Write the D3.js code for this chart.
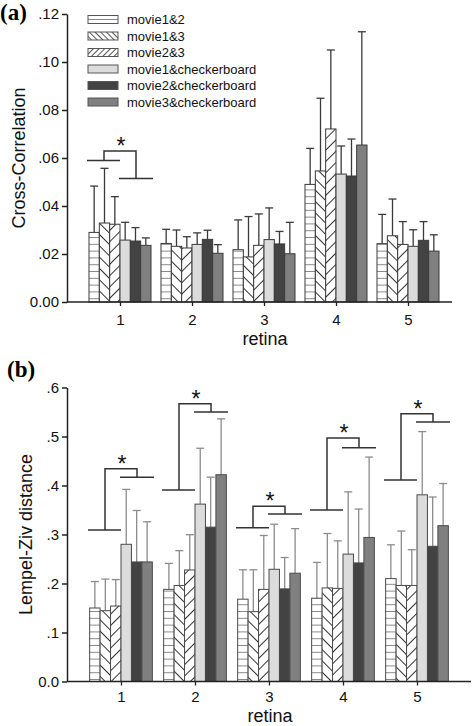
<!DOCTYPE html>
<html><head><meta charset="utf-8">
<script src="https://cdn.jsdelivr.net/npm/d3@7"></script>
<style>
html,body{margin:0;padding:0;background:#fff;}
svg{display:block;font-family:"Liberation Sans",Arial,sans-serif;}
</style></head>
<body><svg id="c" width="472" height="726"></svg>
<script>
// ---------- data ----------
const retinas = [1, 2, 3, 4, 5];
const seriesNames = ["movie1&2", "movie1&3", "movie2&3", "movie1&checkerboard", "movie2&checkerboard", "movie3&checkerboard"];

// Panel (a): Cross-Correlation, mean per series (index = retina 1..5)
const aM12  = [0.0290, 0.0244, 0.0218, 0.0490, 0.0243];
const aM13  = [0.0329, 0.0232, 0.0188, 0.0546, 0.0276];
const aM23  = [0.0324, 0.0225, 0.0236, 0.0721, 0.0240];
const aM1CB = [0.0258, 0.0240, 0.0260, 0.0533, 0.0232];
const aM2CB = [0.0254, 0.0261, 0.0242, 0.0525, 0.0257];
const aM3CB = [0.0236, 0.0203, 0.0201, 0.0654, 0.0212];
// Panel (a): error (SD)
const aE12  = [0.0193, 0.0059, 0.0124, 0.0150, 0.0122];
const aE13  = [0.0228, 0.0068, 0.0168, 0.0303, 0.0153];
const aE23  = [0.0115, 0.0047, 0.0131, 0.0329, 0.0095];
const aE1CB = [0.0074, 0.0048, 0.0132, 0.0117, 0.0069];
const aE2CB = [0.0056, 0.0038, 0.0052, 0.0154, 0.0078];
const aE3CB = [0.0031, 0.0036, 0.0131, 0.0472, 0.0068];

// Panel (b): Lempel-Ziv distance
const bM12  = [0.150, 0.188, 0.168, 0.170, 0.210];
const bM13  = [0.1445, 0.196, 0.1425, 0.191, 0.196];
const bM23  = [0.154, 0.2276, 0.188, 0.190, 0.196];
const bM1CB = [0.280, 0.362, 0.229, 0.260, 0.381];
const bM2CB = [0.244, 0.315, 0.189, 0.242, 0.276];
const bM3CB = [0.244, 0.422, 0.221, 0.294, 0.318];
const bE12  = [0.054, 0.053, 0.060, 0.073, 0.069];
const bE13  = [0.0645, 0.071, 0.0855, 0.111, 0.111];
const bE23  = [0.054, 0.072, 0.110, 0.097, 0.073];
const bE1CB = [0.112, 0.114, 0.092, 0.127, 0.129];
const bE2CB = [0.105, 0.102, 0.064, 0.110, 0.1005];
const bE3CB = [0.082, 0.114, 0.091, 0.164, 0.086];

// significance brackets: [retina, leftLevel, topLevel, rightLevel]
const aSig = [[1, 0.0590, 0.0629, 0.0515]];
const bSig = [[1, 0.309, 0.434, 0.417], [2, 0.391, 0.567, 0.550], [3, 0.314, 0.3576, 0.3417], [4, 0.350, 0.497, 0.477], [5, 0.411, 0.5465, 0.5296]];

const aTicks = [0, 0.02, 0.04, 0.06, 0.08, 0.10, 0.12];
const aTickLabels = ["0.00", ".02", ".04", ".06", ".08", ".10", ".12"];
const bTicks = [0, 0.1, 0.2, 0.3, 0.4, 0.5, 0.6];
const bTickLabels = ["0.0", ".1", ".2", ".3", ".4", ".5", ".6"];

// ---------- drawing ----------
const svg = d3.select("#c");
const defs = svg.append("defs");
function pat(id, size, rot, color, horiz) {
  const p = defs.append("pattern").attr("id", id).attr("patternUnits", "userSpaceOnUse")
    .attr("width", size).attr("height", size);
  if (rot) p.attr("patternTransform", "rotate(" + rot + ")");
  p.append("rect").attr("width", size).attr("height", size).attr("fill", "#fff");
  if (horiz) p.append("line").attr("x1", 0).attr("x2", size).attr("y1", size - 0.5).attr("y2", size - 0.5).attr("stroke", color).attr("stroke-width", 1);
  else p.append("line").attr("x1", 0.5).attr("x2", 0.5).attr("y1", 0).attr("y2", size).attr("stroke", color).attr("stroke-width", 1);
}
pat("hz", 6.8, 0, "#888", true);
pat("bs", 8, -45, "#333", false);
pat("fs", 8, 45, "#333", false);
pat("hzL", 4, 0, "#888", true);
pat("bsL", 4, -45, "#555", false);
pat("fsL", 4, 45, "#555", false);

const fills = ["url(#hz)", "url(#bs)", "url(#fs)", "#dcdcdc", "#434343", "#808080"];
const legendFills = ["url(#hzL)", "url(#bsL)", "url(#fsL)", "#dcdcdc", "#434343", "#808080"];

function panel(cfg) {
  const g = svg.append("g");
  const x = d3.scaleLinear().domain([1, 5]).range(cfg.xr);
  const y = d3.scaleLinear().domain(cfg.yd).range(cfg.yr);
  const sub = d3.scaleBand().domain(seriesNames).range([-cfg.gw / 2, cfg.gw / 2]);
  const bw = sub.bandwidth();

  seriesNames.forEach((s, si) => {
    const means = cfg.means[si], errs = cfg.errs[si];
    const gs = g.append("g");
    retinas.forEach((r, ri) => {
      const bx = x(r) + sub(s);
      const cx = bx + bw / 2;
      const top = y(means[ri] + errs[ri]);
      gs.append("line").attr("x1", cx).attr("x2", cx).attr("y1", y(means[ri])).attr("y2", top)
        .attr("stroke", cfg.errColor).attr("stroke-width", 1.3);
      gs.append("line").attr("x1", cx - 4).attr("x2", cx + 4).attr("y1", top).attr("y2", top)
        .attr("stroke", cfg.errColor).attr("stroke-width", 1.3);
      gs.append("rect").attr("x", bx).attr("y", y(means[ri])).attr("width", bw)
        .attr("height", y(0) - y(means[ri])).attr("fill", fills[si])
        .attr("stroke", cfg.barStroke).attr("stroke-width", 1);
    });
  });

  // significance brackets
  cfg.sig.forEach(([r, l, t, rt]) => {
    const c = x(r);
    const path = d3.path();
    path.moveTo(c - 33, y(l)); path.lineTo(c, y(l));
    path.moveTo(c - 16, y(l)); path.lineTo(c - 16, y(t)); path.lineTo(c + 16, y(t)); path.lineTo(c + 16, y(rt));
    path.moveTo(c - 1, y(rt)); path.lineTo(c + 33, y(rt));
    g.append("path").attr("d", path.toString()).attr("stroke", "#333").attr("stroke-width", 1.5).attr("fill", "none");
    g.append("text").attr("x", c + 1).attr("y", y(t) + 3).attr("text-anchor", "middle")
      .attr("font-size", 23).attr("fill", "#111").text("*");
  });

  // axes
  const ya = g.append("g").attr("transform", "translate(" + cfg.x0 + ",0)")
    .call(d3.axisLeft(y).tickValues(cfg.ticks).tickFormat((d, i) => cfg.tickLabels[i]).tickSize(5).tickSizeOuter(0).tickPadding(3));
  ya.selectAll("text").attr("font-size", 15).attr("fill", "#111").attr("font-family", "Liberation Sans, Arial, sans-serif");
  ya.selectAll("line,path").attr("stroke", "#222").attr("stroke-width", 1.5);

  const xa = g.append("g").attr("transform", "translate(0," + y(0) + ")")
    .call(d3.axisBottom(x).tickValues(retinas).tickFormat(d3.format("d")).tickSize(4).tickSizeOuter(0).tickPadding(cfg.xPad));
  xa.select(".domain").remove();
  xa.append("line").attr("x1", cfg.x0).attr("x2", cfg.x1).attr("stroke", "#222").attr("stroke-width", 1.5);
  xa.selectAll("text").attr("font-size", 15).attr("fill", "#111").attr("font-family", "Liberation Sans, Arial, sans-serif");
  xa.selectAll(".tick line").attr("stroke", "#222").attr("stroke-width", 1.3);

  g.append("text").attr("x", cfg.xTitleX).attr("y", cfg.xTitleY)
    .attr("text-anchor", "middle").attr("font-size", 18).attr("fill", "#111").text("retina");
  g.append("text").attr("transform", "translate(" + cfg.yTitleX + "," + ((cfg.yr[0] + cfg.yr[1]) / 2) + ") rotate(-90)")
    .attr("text-anchor", "middle").attr("font-size", 18).attr("fill", "#111").text(cfg.yTitle);
  g.append("text").attr("x", cfg.lab[0]).attr("y", cfg.lab[1]).attr("font-family", "Liberation Serif, Times New Roman, serif")
    .attr("font-weight", "bold").attr("font-size", 23).attr("fill", "#000").text(cfg.label);
  return g;
}

panel({
  xr: [120, 408], yd: [0, 0.12], yr: [302, 14], gw: 62, x0: 67, x1: 452, xPad: 8,
  means: [aM12, aM13, aM23, aM1CB, aM2CB, aM3CB], errs: [aE12, aE13, aE23, aE1CB, aE2CB, aE3CB],
  errColor: "#3a3a3a", barStroke: "#3a3a3a", sig: aSig, ticks: aTicks, tickLabels: aTickLabels,
  xTitleX: 265, xTitleY: 345, yTitleX: 25, yTitle: "Cross-Correlation", label: "(a)", lab: [0, 20]
});
panel({
  xr: [121, 417], yd: [0, 0.6], yr: [681.5, 387.5], gw: 62.7, x0: 67, x1: 471, xPad: 6,
  means: [bM12, bM13, bM23, bM1CB, bM2CB, bM3CB], errs: [bE12, bE13, bE23, bE1CB, bE2CB, bE3CB],
  errColor: "#8c8c8c", barStroke: "#4a4a4a", sig: bSig, ticks: bTicks, tickLabels: bTickLabels,
  xTitleX: 270, xTitleY: 722, yTitleX: 32, yTitle: "Lempel-Ziv distance", label: "(b)", lab: [7, 377]
});

// legend (panel a)
const lg = svg.append("g");
const ly = d3.scalePoint().domain(seriesNames).range([19.5, 102]);
seriesNames.forEach((s, i) => {
  lg.append("rect").attr("x", 88).attr("y", ly(s) - 4).attr("width", 30).attr("height", 8)
    .attr("fill", legendFills[i]).attr("stroke", "#555").attr("stroke-width", 1);
  lg.append("text").attr("x", 127).attr("y", ly(s) + 4.5).attr("font-size", 13).attr("fill", "#111").text(s);
});
</script></body></html>
